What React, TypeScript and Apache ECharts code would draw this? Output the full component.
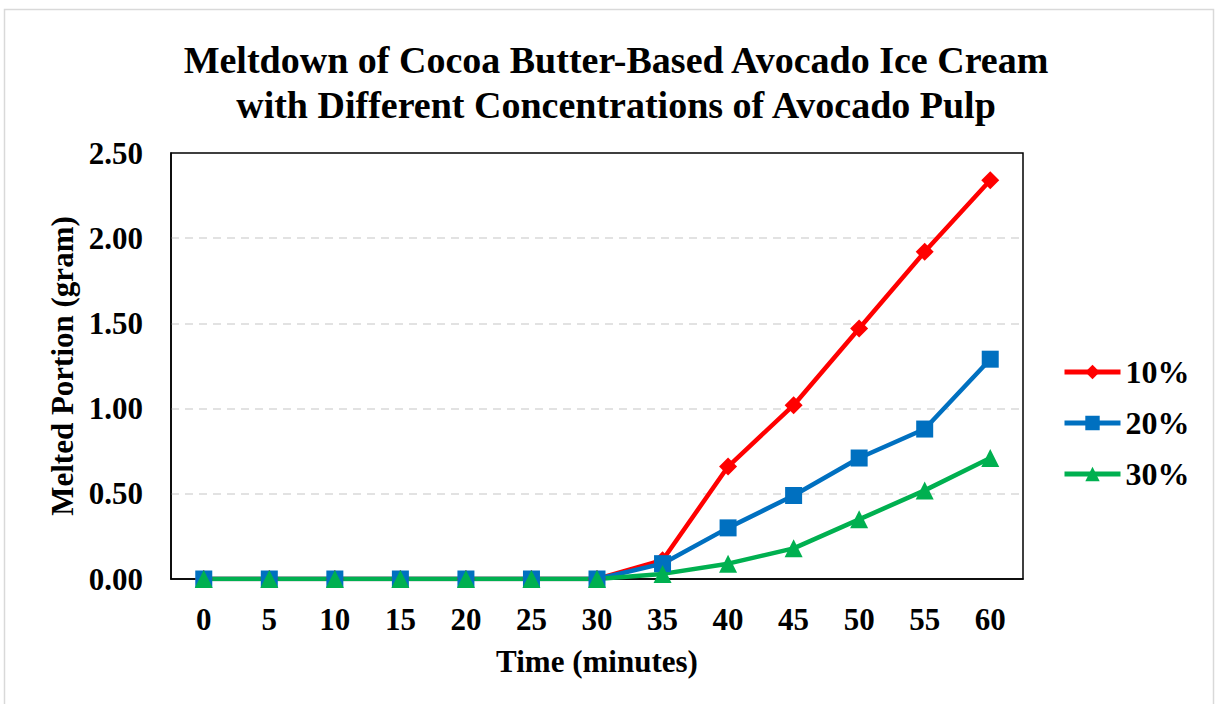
import React, { useEffect, useRef } from "react";
import * as echarts from "echarts";

const categories = ["0", "5", "10", "15", "20", "25", "30", "35", "40", "45", "50", "55", "60"];
const series10 = [0, 0, 0, 0, 0, 0, 0, 0.11, 0.66, 1.02, 1.47, 1.92, 2.34];
const series20 = [0, 0, 0, 0, 0, 0, 0, 0.09, 0.3, 0.49, 0.71, 0.88, 1.29];
const series30 = [0, 0, 0, 0, 0, 0, 0, 0.03, 0.09, 0.18, 0.35, 0.52, 0.71];
const seriesNames = ["10%", "20%", "30%"];

const FONT = "'Liberation Serif', 'Times New Roman', serif";

export default function App() {
  const ref = useRef<HTMLDivElement>(null);
  useEffect(() => {
    if (!ref.current) return;
    const chart = echarts.init(ref.current, undefined, { renderer: "svg" });
    const mk = (name: string, data: number[], color: string, symbol: string, size: number) => ({
      name,
      type: "line",
      data,
      symbol,
      symbolSize: size,
      lineStyle: { color, width: 4.5 },
      itemStyle: { color },
      z: 3,
    });
    chart.setOption({
      animation: false,
      backgroundColor: "#ffffff",
      textStyle: { fontFamily: FONT },
      graphic: [
        {
          type: "rect",
          shape: { x: 4.5, y: 9.5, width: 1209, height: 720 },
          style: { fill: "none", stroke: "#d9d9d9", lineWidth: 1.5 },
          silent: true,
        },
      ],
      title: {
        text: "Meltdown of Cocoa Butter-Based Avocado Ice Cream\nwith Different Concentrations of Avocado Pulp",
        left: 611,
        textAlign: "center",
        top: 32,
        textStyle: { fontFamily: FONT, fontWeight: "bold", fontSize: 38, lineHeight: 45, color: "#000" },
      },
      legend: {
        orient: "vertical",
        left: 1057,
        top: 351,
        itemWidth: 56,
        itemHeight: 18,
        itemGap: 19,
        lineStyle: { width: 5 },
        textStyle: { fontFamily: FONT, fontWeight: "bold", fontSize: 32, color: "#000" },
        data: seriesNames,
      },
      grid: {
        left: 171,
        top: 153,
        width: 852,
        height: 426,
        show: true,
        borderColor: "#000",
        borderWidth: 1.5,
        backgroundColor: "transparent",
      },
      xAxis: {
        type: "category",
        data: categories,
        boundaryGap: true,
        name: "Time (minutes)",
        nameLocation: "middle",
        nameGap: 67,
        nameTextStyle: { fontFamily: FONT, fontWeight: "bold", fontSize: 31, color: "#000" },
        axisLine: { show: true, lineStyle: { color: "#000", width: 1.5 } },
        axisTick: { show: false },
        axisLabel: { margin: 25, fontFamily: FONT, fontWeight: "bold", fontSize: 31, color: "#000" },
        splitLine: { show: false },
      },
      yAxis: {
        type: "value",
        min: 0,
        max: 2.5,
        interval: 0.5,
        name: "Melted Portion (gram)",
        nameLocation: "middle",
        nameGap: 92,
        nameRotate: 90,
        nameTextStyle: { fontFamily: FONT, fontWeight: "bold", fontSize: 31, color: "#000" },
        axisLine: { show: true, lineStyle: { color: "#000", width: 1.5 } },
        axisTick: { show: false },
        axisLabel: {
          margin: 28,
          fontFamily: FONT,
          fontWeight: "bold",
          fontSize: 31,
          color: "#000",
          formatter: (v: number) => v.toFixed(2),
        },
        splitLine: {
          show: true,
          showMinLine: false,
          showMaxLine: false,
          lineStyle: { color: "#d9d9d9", width: 1.5, type: [8, 6] },
        },
      },
      series: [
        mk(seriesNames[0], series10, "#ff0000", "diamond", 18),
        mk(seriesNames[1], series20, "#0070c0", "rect", 17),
        mk(seriesNames[2], series30, "#00b050", "triangle", 18),
      ],
    });
    return () => chart.dispose();
  }, []);
  return (
    <div
      ref={ref}
      style={{ position: "absolute", left: 0, top: 0, width: 1218, height: 704 }}
    />
  );
}
